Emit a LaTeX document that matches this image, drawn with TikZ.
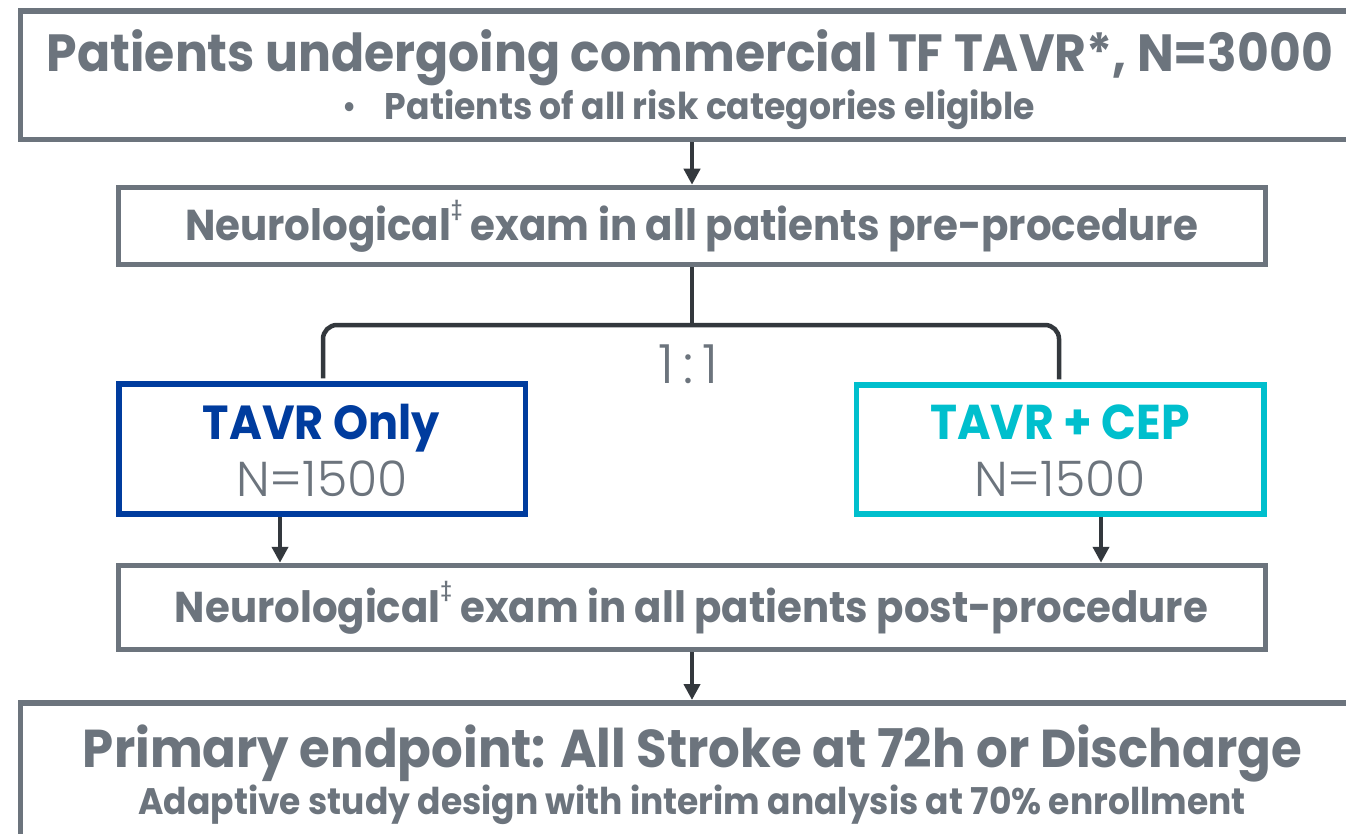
\documentclass[tikz,border=0pt]{standalone}
\usepackage{fontspec}
\setmainfont{Poppins}
\newfontfamily\lightfont{Poppins Light}
\usetikzlibrary{arrows.meta}
\definecolor{slate}{HTML}{6C747D}
\definecolor{ink}{HTML}{33383D}
\definecolor{navy}{HTML}{003C9E}
\definecolor{aqua}{HTML}{00BFCD}
% small raised double dagger
\newcommand{\dd}{\raisebox{0.6em}{\fontsize{0.45em}{0.45em}\selectfont\lightfont ‡}}
% set a line to a given width, then stretch it a little upward
\newcommand{\fitline}[2]{\scalebox{1}[1.07]{\resizebox{#1}{!}{#2}}}
\begin{document}
\begin{tikzpicture}[x=1pt,y=-1pt,
  box/.style={draw=slate, line width=5.5pt, fill=none, inner sep=0pt},
  label/.style={inner sep=0pt, anchor=base, text=slate},
  conn/.style={draw=ink, line width=4.5pt},
  arrow/.style={conn, -{Triangle[width=16pt,length=16pt]}}]
\useasboundingbox (0,0) rectangle (1346,834);
\fill[white] (0,0) rectangle (1346,834);
\begin{scope}
\clip (0,0) rectangle (1346,834);

% boxes
\node[box, anchor=north west, minimum width=1400pt, minimum height=128.5pt] (top) at (17.5,8.5) {};
\node[box, minimum width=1147pt, minimum height=77pt] (pre) at (692,226) {};
\node[box, draw=navy, minimum width=406.5pt, minimum height=130pt] (lbox) at (322.25,449) {};
\node[box, draw=aqua, minimum width=407.5pt, minimum height=129pt] (rbox) at (1060.25,449.5) {};
\node[box, minimum width=1147pt, minimum height=84pt] (post) at (692,607.5) {};
\node[box, anchor=north west, minimum width=1400pt, minimum height=200pt] (bot) at (17.5,700) {};

% texts
\node[label, font=\bfseries\fontsize{50}{50}\selectfont] (t1) at (690,72)
  {\fitline{1286pt}{Patients undergoing commercial TF TAVR*, N=3000}};
\node[label, font=\bfseries\fontsize{26}{26}\selectfont] (t2) at (689,120)
  {\fitline{692pt}{\mdseries•\hspace{0.8em}\bfseries Patients of all risk categories eligible}};
\node[label, font=\bfseries\fontsize{40}{40}\selectfont] (t3) at (691.5,241)
  {\fitline{1013pt}{Neurological\dd{} exam in all patients pre-procedure}};
\node[label, font=\lightfont\fontsize{54}{54}\selectfont] (ratio) at (688.5,383) {1\hspace{9pt}:\hspace{9pt}1};
\node[label, text=navy, font=\bfseries\fontsize{46}{46}\selectfont] (l1) at (321.5,439)
  {\fitline{237pt}{TAVR Only}};
\node[label, font=\lightfont\fontsize{49}{49}\selectfont] (l2) at (322,496) {N=1500};
\node[label, text=aqua, font=\bfseries\fontsize{46}{46}\selectfont] (r1) at (1060,439)
  {\fitline{260pt}{TAVR + CEP}};
\node[label, font=\lightfont\fontsize{49}{49}\selectfont] (r2) at (1060,496) {N=1500};
\node[label, font=\bfseries\fontsize{40}{40}\selectfont] (t4) at (691.5,622)
  {\fitline{1033pt}{Neurological\dd{} exam in all patients post-procedure}};
\node[label, font=\bfseries\fontsize{50}{50}\selectfont] (t5) at (692.5,767)
  {\fitline{1219pt}{Primary endpoint: All Stroke at 72h or Discharge}};
\node[label, font=\bfseries\fontsize{34}{34}\selectfont] (t6) at (692,814)
  {\fitline{1107pt}{Adaptive study design with interim analysis at 70\% enrollment}};

% connectors
\coordinate (bar) at (0,325);
\coordinate (fl) at (323,0);
\coordinate (fr) at (1059,0);
\coordinate (la) at (280,0);
\coordinate (ra) at (1101,0);
\draw[arrow] (top.south -| pre.north) -- (pre.north);
\draw[conn] (pre.south) -- (pre.south |- bar);
\draw[conn, rounded corners=14pt] ([yshift=3pt]lbox.north -| fl) |- (pre.south |- bar) -| ([yshift=3pt]rbox.north -| fr);
\draw[arrow] (la |- lbox.south) -- (la |- post.north);
\draw[arrow] (ra |- rbox.south) -- (ra |- post.north);
\draw[arrow] (post.south) -- (post.south |- bot.north);
\end{scope}
\end{tikzpicture}
\end{document}
